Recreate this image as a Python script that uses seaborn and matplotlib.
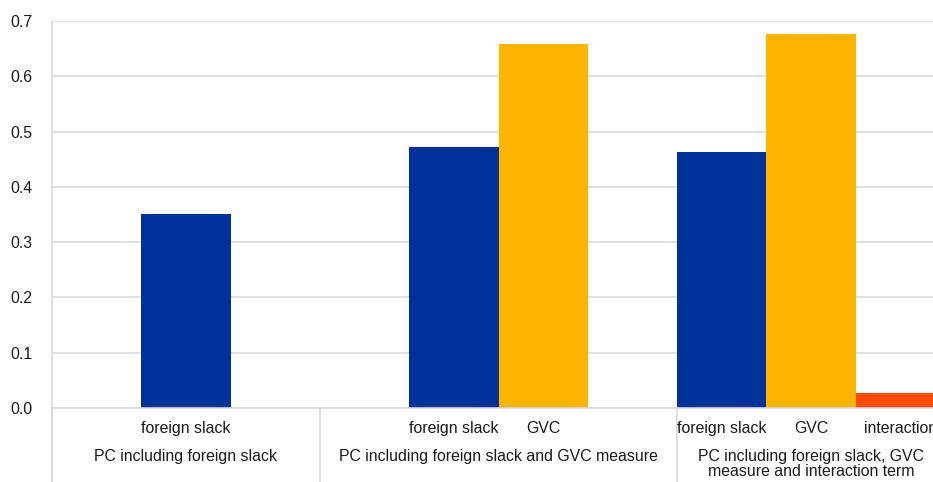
import pandas as pd
import matplotlib.pyplot as plt
import seaborn as sns

groups = ["PC including foreign slack",
          "PC including foreign slack and GVC measure",
          "PC including foreign slack, GVC\nmeasure and interaction term"]
series = ["foreign slack", "GVC", "interaction"]
group1_vals = [0.351]
group2_vals = [0.472, 0.658]
group3_vals = [0.463, 0.676, 0.027]
colors = {"foreign slack": "#003299", "GVC": "#FFB400", "interaction": "#FF4B00"}

# empty slots around the groups, as in the original layout
pads = [(1, 1), (1, 1), (0, 0)]

rows = []
order = []
group_spans = []
for g, (name, vals) in enumerate(zip(groups, [group1_vals, group2_vals, group3_vals])):
    start = len(order)
    before, after = pads[g]
    for k in range(before):
        order.append(f"g{g}_pre{k}")
    for s, v in zip(series, vals):
        slot = f"g{g}_{s}"
        order.append(slot)
        rows.append({"slot": slot, "value": v, "series": s, "label": s})
    for k in range(after):
        order.append(f"g{g}_post{k}")
    group_spans.append((start, len(order) - 1))

df = pd.DataFrame(rows)

sns.set_theme(style="white")
plt.rcParams['font.family'] = ['Liberation Sans', 'DejaVu Sans']

fs = 11.4
txt = "#1a1a1a"

fig = plt.figure(figsize=(9.33, 4.82), dpi=100)
ax = fig.add_axes([0.0557, 0.1535, 0.9443, 0.8029])

sns.barplot(data=df, x="slot", y="value", hue="series", order=order,
            palette=colors, dodge=False, width=1.0, linewidth=0,
            saturation=1, legend=False, ax=ax)

ax.set_ylim(0, 0.7)
ax.set_xlim(-0.5, 9.365)
ax.set_yticks([i / 10 for i in range(8)])
ax.set_yticklabels([f"{i / 10:.1f}" for i in range(8)], fontsize=fs, color=txt)
ax.tick_params(axis="y", length=0, pad=14)
ax.yaxis.grid(True, color="#d9d9d9", linewidth=1.2)
ax.set_axisbelow(True)
ax.set_xticks([])
ax.set_xlabel("")
ax.set_ylabel("")
for side in ["top", "right"]:
    ax.spines[side].set_visible(False)
ax.spines["left"].set_visible(False)
ax.spines["bottom"].set_color("#d9d9d9")
ax.spines["bottom"].set_linewidth(1.2)

trans = ax.get_xaxis_transform()
for r in rows:
    x = order.index(r["slot"])
    ax.text(x, -0.052, r["label"], transform=trans, ha="center", va="center",
            fontsize=fs, color=txt, clip_on=False)

for (start, end), name in zip(group_spans, groups):
    center = start + 1 if name == groups[0] else (start + end) / 2
    ax.text(center, -0.105, name, transform=trans, ha="center", va="top",
            fontsize=fs, color=txt, linespacing=1.0, clip_on=False)
    ax.plot([start - 0.5, start - 0.5], [0, -0.2], transform=trans,
            color="#d9d9d9", linewidth=1.2, clip_on=False)

# left axis line through the whole height
ax.plot([-0.5, -0.5], [-0.2, 1.0], transform=trans, color="#d9d9d9",
        linewidth=1.2, clip_on=False)

fig.savefig("out.png", dpi=100)
